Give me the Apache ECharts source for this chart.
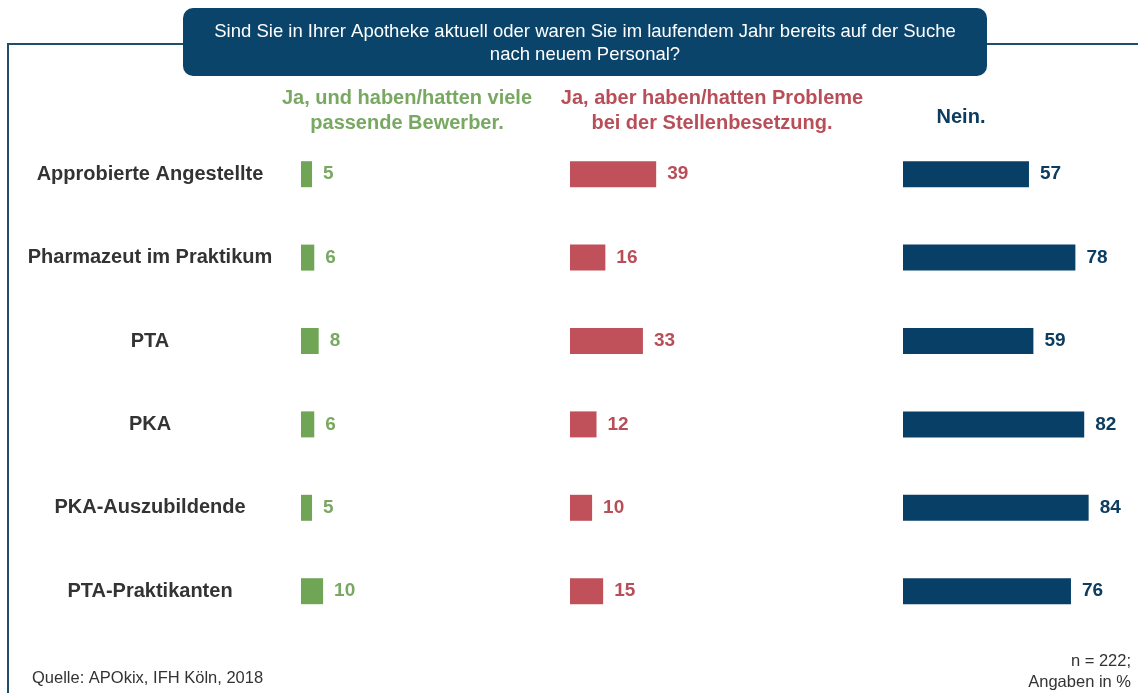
<!DOCTYPE html>
<html><head><meta charset="utf-8">
<script src="https://cdn.jsdelivr.net/npm/echarts@6/dist/echarts.min.js"></script>
<style>html,body{margin:0;padding:0;background:#fff}#c{width:1138px;height:693px}</style>
</head><body><div id="c"></div>
<script>
const categories = ['Approbierte Angestellte','Pharmazeut im Praktikum','PTA','PKA','PKA-Auszubildende','PTA-Praktikanten'];
const jaViele = [5,6,8,6,5,10];
const jaProbleme = [39,16,33,12,10,15];
const nein = [57,78,59,82,84,76];
const headers = ['Ja, und haben/hatten viele\npassende Bewerber.','Ja, aber haben/hatten Probleme\nbei der Stellenbesetzung.','Nein.'];
const titleText = 'Sind Sie in Ihrer Apotheke aktuell oder waren Sie im laufendem Jahr bereits auf der Suche\nnach neuem Personal?';
const sourceText = 'Quelle: APOkix, IFH Köln, 2018';
const noteText = 'n = 222;\nAngaben in %';

const FONT = '"Liberation Sans", Arial, sans-serif';
const cols = [
  {data: jaViele, left: 301, bar: '#70a556', label: '#7aa862'},
  {data: jaProbleme, left: 570, bar: '#c0505a', label: '#b84e58'},
  {data: nein, left: 903, bar: '#073f66', label: '#0c3c60'}
];
const gTop = 132.5, gH = 500.4, gW = 221;
const grids = [], xAxes = [], yAxes = [], series = [];
cols.forEach((c, i) => {
  grids.push({left: c.left, top: gTop, width: gW, height: gH});
  xAxes.push({type: 'value', gridIndex: i, min: 0, max: 100, show: false});
  yAxes.push({type: 'category', gridIndex: i, data: categories, inverse: true,
    axisLine: {show: false}, axisTick: {show: false}, splitLine: {show: false},
    axisLabel: i === 0 ? {show: true, margin: 151, align: 'center', fontFamily: FONT, fontSize: 20, fontWeight: 'bold', color: '#333'} : {show: false}});
  series.push({type: 'bar', xAxisIndex: i, yAxisIndex: i, data: c.data, barWidth: 26,
    itemStyle: {color: c.bar}, animation: false,
    label: {show: true, position: 'right', distance: 11, fontFamily: FONT, fontSize: 19, fontWeight: 'bold', color: c.label}});
});

const chart = echarts.init(document.getElementById('c'), null, {renderer: 'canvas'});
chart.setOption({
  animation: false,
  grid: grids, xAxis: xAxes, yAxis: yAxes, series: series,
  graphic: [
    {type: 'polyline', shape: {points: [[8, 693], [8, 44], [183, 44]]}, style: {stroke: '#1f4e6b', lineWidth: 2, fill: null}},
    {type: 'line', shape: {x1: 987, y1: 44, x2: 1138, y2: 44}, style: {stroke: '#1f4e6b', lineWidth: 2}},
    {type: 'rect', shape: {x: 183, y: 8, width: 804, height: 68, r: 10}, style: {fill: '#0a446b'}},
    {type: 'text', x: 585, y: 43, style: {text: titleText, fill: '#fff', font: '18.5px ' + FONT, align: 'center', verticalAlign: 'middle', lineHeight: 23}},
    {type: 'text', x: 407, y: 111, style: {text: headers[0], fill: '#78a862', font: 'bold 20px ' + FONT, align: 'center', verticalAlign: 'middle', lineHeight: 25}},
    {type: 'text', x: 712, y: 111, style: {text: headers[1], fill: '#b84e58', font: 'bold 20px ' + FONT, align: 'center', verticalAlign: 'middle', lineHeight: 25}},
    {type: 'text', x: 961, y: 117, style: {text: headers[2], fill: '#0c3c60', font: 'bold 20px ' + FONT, align: 'center', verticalAlign: 'middle'}},
    {type: 'text', x: 32, y: 678, style: {text: sourceText, fill: '#333', font: '16.5px ' + FONT, align: 'left', verticalAlign: 'middle'}},
    {type: 'text', x: 1131, y: 672, style: {text: noteText, fill: '#333', font: '16.5px ' + FONT, align: 'right', verticalAlign: 'middle', lineHeight: 21}}
  ]
});
</script></body></html>
